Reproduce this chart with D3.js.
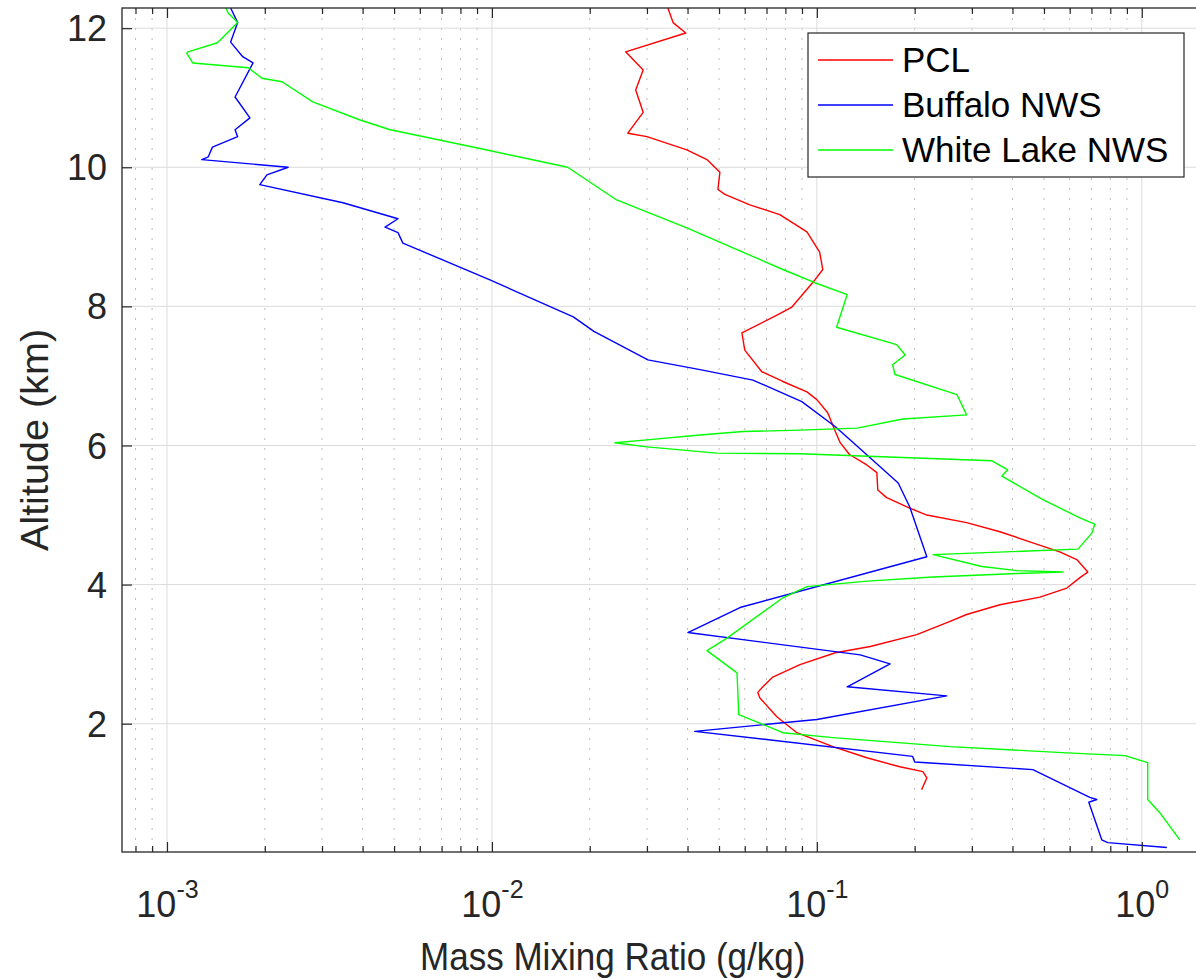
<!DOCTYPE html>
<html lang="en">
<head>
    <meta charset="UTF-8">
    <title>Mass Mixing Ratio profiles</title>

    <script src="https://d3js.org/d3.v7.min.js"></script>

    <style>
        body {
            margin: 0;
            background: #ffffff;
        }

        svg {
            display: block;
            font-family: "Liberation Sans", Arial, Helvetica, sans-serif;
        }
    </style>

    <script>

        // altitude (km) / mass mixing ratio (g/kg)
        const pclAlt = [12.29, 12.08, 11.93, 11.66, 11.40, 11.11, 10.79, 10.49, 10.44, 10.25, 10.11, 9.93, 9.68, 9.61, 9.46, 9.32, 9.07, 8.78, 8.53, 8.38, 7.99, 7.88, 7.62, 7.37, 7.06, 6.92, 6.77, 6.66, 6.47, 6.20, 6.04, 5.87, 5.72, 5.61, 5.36, 5.25, 5.10, 5.00, 4.89, 4.76, 4.60, 4.47, 4.36, 4.18, 4.10, 3.95, 3.82, 3.71, 3.57, 3.47, 3.28, 3.11, 3.02, 2.85, 2.67, 2.53, 2.45, 2.37, 2.10, 1.87, 1.67, 1.51, 1.38, 1.31, 1.22, 1.05];
        const pclMmr = [0.0348, 0.0361, 0.0395, 0.0258, 0.0292, 0.0277, 0.0292, 0.0262, 0.0300, 0.0398, 0.0459, 0.0503, 0.0496, 0.0521, 0.0622, 0.0769, 0.0932, 0.102, 0.1043, 0.0986, 0.0838, 0.0759, 0.0588, 0.0600, 0.0677, 0.0786, 0.0932, 0.100, 0.108, 0.114, 0.118, 0.126, 0.1425, 0.153, 0.154, 0.164, 0.193, 0.218, 0.289, 0.366, 0.462, 0.559, 0.631, 0.682, 0.645, 0.588, 0.486, 0.366, 0.289, 0.257, 0.203, 0.146, 0.114, 0.0887, 0.0732, 0.0682, 0.0658, 0.0668, 0.0753, 0.0868, 0.112, 0.1425, 0.180, 0.212, 0.218, 0.210];

        const bufAlt = [12.29, 12.08, 11.80, 11.59, 11.50, 11.01, 10.71, 10.54, 10.44, 10.29, 10.15, 10.11, 10.00, 9.89, 9.75, 9.49, 9.26, 9.14, 9.06, 8.91, 8.38, 7.85, 7.64, 7.23, 7.09, 6.94, 6.63, 6.27, 6.06, 5.46, 5.12, 4.40, 3.67, 3.31, 2.99, 2.86, 2.53, 2.40, 2.06, 1.89, 1.53, 1.45, 1.34, 0.94, 0.91, 0.87, 0.33, 0.29, 0.22];
        const bufMmr = [0.00157, 0.00165, 0.00157, 0.00171, 0.00184, 0.00162, 0.0018, 0.00162, 0.00165, 0.00138, 0.00134, 0.00128, 0.00236, 0.00203, 0.00193, 0.00348, 0.00514, 0.00469, 0.00514, 0.00532, 0.00986, 0.0178, 0.0206, 0.0302, 0.0437, 0.0636, 0.0899, 0.114, 0.128, 0.178, 0.193, 0.218, 0.058, 0.0401, 0.136, 0.168, 0.124, 0.251, 0.100, 0.0421, 0.197, 0.200, 0.462, 0.692, 0.727, 0.687, 0.753, 0.786, 1.194];

        const wlAlt = [12.29, 12.22, 12.08, 11.79, 11.66, 11.64, 11.50, 11.43, 11.28, 11.23, 10.94, 10.68, 10.54, 10.51, 10.27, 10.00, 9.53, 9.13, 8.53, 8.34, 8.17, 7.70, 7.45, 7.30, 7.16, 7.02, 6.73, 6.44, 6.38, 6.25, 6.22, 6.20, 6.15, 6.08, 6.04, 5.98, 5.89, 5.88, 5.78, 5.65, 5.56, 5.22, 4.96, 4.87, 4.74, 4.51, 4.43, 4.26, 4.20, 4.18, 4.16, 4.11, 4.05, 3.97, 3.81, 3.23, 3.05, 2.73, 2.13, 1.99, 1.87, 1.80, 1.67, 1.58, 1.54, 1.44, 0.91, 0.72, 0.33];
        const wlMmr = [0.00152, 0.00154, 0.00165, 0.00143, 0.00116, 0.00115, 0.0012, 0.00178, 0.00196, 0.00226, 0.00281, 0.00393, 0.00486, 0.00521, 0.00919, 0.0171, 0.0242, 0.0398, 0.0786, 0.0986, 0.124, 0.115, 0.176, 0.187, 0.171, 0.174, 0.270, 0.289, 0.184, 0.133, 0.0887, 0.0592, 0.0437, 0.0300, 0.0239, 0.0300, 0.0492, 0.0887, 0.346, 0.387, 0.371, 0.496, 0.645, 0.717, 0.702, 0.636, 0.228, 0.322, 0.413, 0.571, 0.413, 0.228, 0.143, 0.0932, 0.0786, 0.0529, 0.0459, 0.0568, 0.0575, 0.0682, 0.0786, 0.112, 0.257, 0.588, 0.887, 1.043, 1.043, 1.136, 1.309];

        const seriesNames = ["PCL", "Buffalo NWS", "White Lake NWS"];
        const seriesColors = ["#ff0000", "#0000ff", "#00ff00"];

        const yTicks = [2, 4, 6, 8, 10, 12];
        const xMajorTicks = [1e-3, 1e-2, 1e-1, 1e0];
        const xMinorTicks = [8e-4, 9e-4,
            2e-3, 3e-3, 4e-3, 5e-3, 6e-3, 7e-3, 8e-3, 9e-3,
            2e-2, 3e-2, 4e-2, 5e-2, 6e-2, 7e-2, 8e-2, 9e-2,
            2e-1, 3e-1, 4e-1, 5e-1, 6e-1, 7e-1, 8e-1, 9e-1];

        const xLabel = "Mass Mixing Ratio (g/kg)";
        const yLabel = "Altitude (km)";

        document.addEventListener("DOMContentLoaded", () => makeGraph());

        function makeGraph() {
            const width = 1196;
            const height = 980;

            const margins = {top: 8, left: 122};
            const plotW = 1077;
            const plotH = 844;
            const ink = "#262626";

            let svg = d3.select("svg")
                .attr("width", width)
                .attr("height", height);

            svg.append("defs").append("clipPath").attr("id", "plotClip")
                .append("rect").attr("width", plotW).attr("height", plotH);

            const g = svg.append("g").attr("transform", `translate(${margins.left},${margins.top})`);

            let xScale = d3.scaleLog().domain([7.27e-4, 1.5]).range([0, plotW]);
            let yScale = d3.scaleLinear().domain([0.155, 12.29]).range([plotH, 0]);

            // grid
            g.append("g").selectAll("line")
                .data(xMinorTicks)
                .enter().append("line")
                .attr("x1", d => xScale(d)).attr("x2", d => xScale(d))
                .attr("y1", 0).attr("y2", plotH)
                .attr("stroke", "#bcbcbc")
                .attr("stroke-width", 1)
                .attr("stroke-dasharray", "2,8");

            g.append("g").selectAll("line")
                .data(xMajorTicks)
                .enter().append("line")
                .attr("x1", d => xScale(d)).attr("x2", d => xScale(d))
                .attr("y1", 0).attr("y2", plotH)
                .attr("stroke", "#dcdcdc")
                .attr("stroke-width", 1);

            g.append("g").selectAll("line")
                .data(yTicks)
                .enter().append("line")
                .attr("x1", 0).attr("x2", plotW)
                .attr("y1", d => yScale(d)).attr("y2", d => yScale(d))
                .attr("stroke", "#dcdcdc")
                .attr("stroke-width", 1);

            // data lines
            const series = [
                {alt: pclAlt, mmr: pclMmr},
                {alt: bufAlt, mmr: bufMmr},
                {alt: wlAlt, mmr: wlMmr}
            ];

            const line = d3.line()
                .x(d => xScale(d[1]))
                .y(d => yScale(d[0]));

            const lines = g.append("g").attr("clip-path", "url(#plotClip)");
            series.forEach((s, i) => {
                lines.append("path")
                    .datum(s.alt.map((a, j) => [a, s.mmr[j]]))
                    .attr("fill", "none")
                    .attr("stroke", seriesColors[i])
                    .attr("stroke-width", 1.4)
                    .attr("stroke-linejoin", "round")
                    .attr("d", line);
            });

            // axes (ticks pointing inward)
            const styleAxis = sel => {
                sel.select(".domain").remove();
                sel.selectAll(".tick line").attr("stroke", ink).attr("stroke-width", 1.2);
                sel.attr("font-family", null).attr("font-size", 36);
                sel.selectAll("text").attr("fill", ink);
            };

            g.append("g").attr("transform", `translate(0,${plotH})`)
                .call(d3.axisBottom(xScale).tickValues(xMinorTicks).tickSize(-6).tickSizeOuter(0).tickFormat(""))
                .call(styleAxis);
            g.append("g")
                .call(d3.axisTop(xScale).tickValues(xMinorTicks).tickSize(-6).tickSizeOuter(0).tickFormat(""))
                .call(styleAxis);
            g.append("g")
                .call(d3.axisTop(xScale).tickValues(xMajorTicks).tickSize(-10).tickSizeOuter(0).tickFormat(""))
                .call(styleAxis);

            const xAxis = g.append("g").attr("transform", `translate(0,${plotH})`)
                .call(d3.axisBottom(xScale).tickValues(xMajorTicks).tickSize(-10).tickSizeOuter(0)
                    .tickFormat(d => Math.round(Math.log10(d))))
                .call(styleAxis);

            xAxis.selectAll(".tick text").each(function(d) {
                const t = d3.select(this);
                const exp = t.text();
                t.text(null).attr("y", 65).attr("dy", null);
                t.append("tspan").text("10");
                t.append("tspan").attr("dy", -19).attr("font-size", 25).text(exp);
            });

            g.append("g")
                .call(d3.axisLeft(yScale).tickValues(yTicks).tickSize(-10).tickSizeOuter(0).tickPadding(15)
                    .tickFormat(d3.format("d")))
                .call(styleAxis)
                .selectAll("text").attr("dy", "0.35em");

            // box
            g.append("rect")
                .attr("width", plotW).attr("height", plotH)
                .attr("fill", "none")
                .attr("stroke", ink)
                .attr("stroke-width", 1.3);

            // axis labels (the source picture is a little squeezed sideways)
            svg.append("text")
                .attr("transform", "translate(420,970) scale(0.885,1)")
                .attr("font-size", 39.6)
                .attr("fill", ink)
                .text(xLabel);

            svg.append("text")
                .attr("transform", "translate(48,440) rotate(-90)")
                .attr("text-anchor", "middle")
                .attr("font-size", 39.6)
                .attr("fill", ink)
                .text(yLabel);

            // legend
            const legend = svg.append("g").attr("transform", "translate(808,33)");
            legend.append("rect")
                .attr("width", 376).attr("height", 144)
                .attr("fill", "#ffffff")
                .attr("stroke", ink)
                .attr("stroke-width", 1.2);

            seriesNames.forEach((name, i) => {
                const row = legend.append("g").attr("transform", `translate(0,${27 + i * 45})`);
                row.append("line")
                    .attr("x1", 10).attr("x2", 85)
                    .attr("stroke", seriesColors[i])
                    .attr("stroke-width", 1.4);
                row.append("text")
                    .attr("x", 94).attr("dy", "0.35em")
                    .attr("font-size", 35)
                    .attr("fill", "#000000")
                    .text(name);
            });
        }

    </script>

</head>
<body>

    <svg></svg>

</body>
</html>
